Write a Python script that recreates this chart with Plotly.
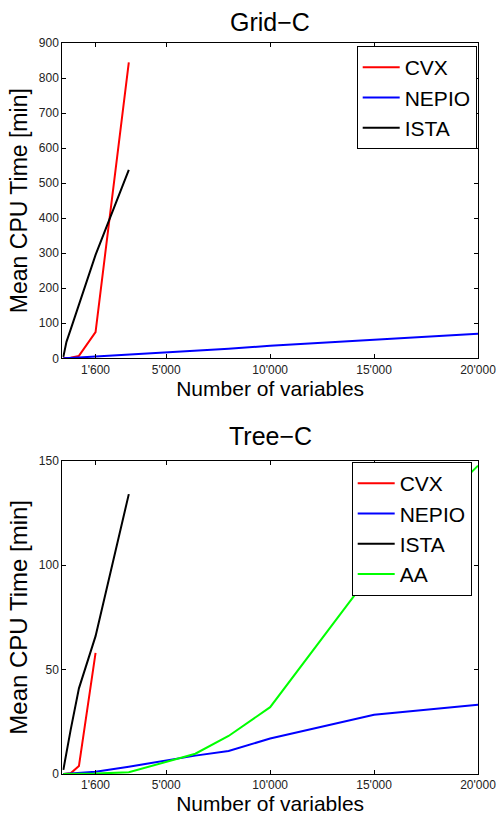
import plotly.graph_objects as go

# ---- data ----
n_small = [50, 200, 400, 800, 1600, 3200]
n_cvx_tree = [50, 200, 400, 800, 1600]
n_large = [50, 200, 400, 800, 1600, 3200, 6400, 8000, 10000, 15000, 20000]

grid_cvx = [0.3, 0.6, 1.5, 7, 75, 845]
grid_nepio = [0.05, 0.3, 0.8, 2, 5, 10, 22, 27, 36, 52, 70]
grid_ista = [4, 47, 82, 151, 295, 538]

tree_cvx = [0.05, 0.1, 0.3, 3.8, 58]
tree_nepio = [0.02, 0.1, 0.3, 0.6, 1.1, 3.5, 8.8, 11, 17, 28.4, 33.2]
tree_ista = [2, 11, 21, 41, 66, 134]
tree_aa = [0.0, 0.01, 0.03, 0.08, 0.2, 0.8, 9.7, 18.2, 32, 98, 147.6]

x_tickvals = [1600, 5000, 10000, 15000, 20000]
x_ticktext = ["1'600", "5'000", "10'000", "15'000", "20'000"]

RED, BLUE, BLACK, GREEN = "#ff0000", "#0000ff", "#000000", "#00ff00"
FONT = "Liberation Sans, Arial, Helvetica, sans-serif"
W, H = 497, 820

fig = go.Figure()

def add(x, y, name, color, xa, ya, leg):
    fig.add_trace(go.Scatter(x=x, y=y, mode="lines", name=name,
                             line=dict(color=color, width=2),
                             xaxis=xa, yaxis=ya, legend=leg,
                             legendgroup=leg + name))

add(n_small, grid_cvx, "CVX", RED, "x", "y", "legend")
add(n_large, grid_nepio, "NEPIO", BLUE, "x", "y", "legend")
add(n_small, grid_ista, "ISTA", BLACK, "x", "y", "legend")

add(n_cvx_tree, tree_cvx, "CVX", RED, "x2", "y2", "legend2")
add(n_large, tree_nepio, "NEPIO", BLUE, "x2", "y2", "legend2")
add(n_small, tree_ista, "ISTA", BLACK, "x2", "y2", "legend2")
add(n_large, tree_aa, "AA", GREEN, "x2", "y2", "legend2")

xl, xr = 62.3 / W, 478 / W
top_dom = [(H - 358.3) / H, (H - 43) / H]
bot_dom = [(H - 774) / H, (H - 460.7) / H]

axis_common = dict(showline=True, linecolor="black", linewidth=1, mirror="ticks",
                   ticks="inside", ticklen=4, tickcolor="black", showgrid=False,
                   zeroline=False, automargin=False,
                   tickfont=dict(size=12, color="#222", family=FONT))

xcommon = dict(axis_common, range=[0, 20000], tickvals=x_tickvals, ticktext=x_ticktext,
               title=dict(text="Number of variables", font=dict(size=21, color="black"), standoff=1))

leg_common = dict(xanchor="right", yanchor="top", bgcolor="white", bordercolor="black",
                  borderwidth=1, font=dict(size=21, color="black"), tracegroupgap=0,
                  itemwidth=37)

fig.update_layout(
    width=W, height=H,
    margin=dict(l=0, r=0, t=0, b=0),
    paper_bgcolor="white", plot_bgcolor="white",
    font=dict(family=FONT, color="black"),
    xaxis=dict(xcommon, domain=[xl, xr], anchor="y"),
    yaxis=dict(axis_common, domain=top_dom, anchor="x", range=[0, 900], dtick=100,
               title=dict(text="Mean CPU Time [min]", font=dict(size=23, color="black"), standoff=4)),
    xaxis2=dict(xcommon, domain=[xl, xr], anchor="y2"),
    yaxis2=dict(axis_common, domain=bot_dom, anchor="x2", range=[0, 150], dtick=50,
                title=dict(text="Mean CPU Time [min]", font=dict(size=24, color="black"), standoff=4)),
    legend=dict(leg_common, x=476.7 / W, y=(H - 46) / H),
    legend2=dict(leg_common, x=471.7 / W, y=(H - 462) / H),
    annotations=[
        dict(text="Grid−C", x=(xl + xr) / 2, y=(H - 22) / H, xref="paper", yref="paper",
             showarrow=False, font=dict(size=25, color="black"), xanchor="center", yanchor="middle"),
        dict(text="Tree−C", x=(xl + xr) / 2, y=(H - 436) / H, xref="paper", yref="paper",
             showarrow=False, font=dict(size=25, color="black"), xanchor="center", yanchor="middle"),
    ],
)

fig.write_html("out.html")
